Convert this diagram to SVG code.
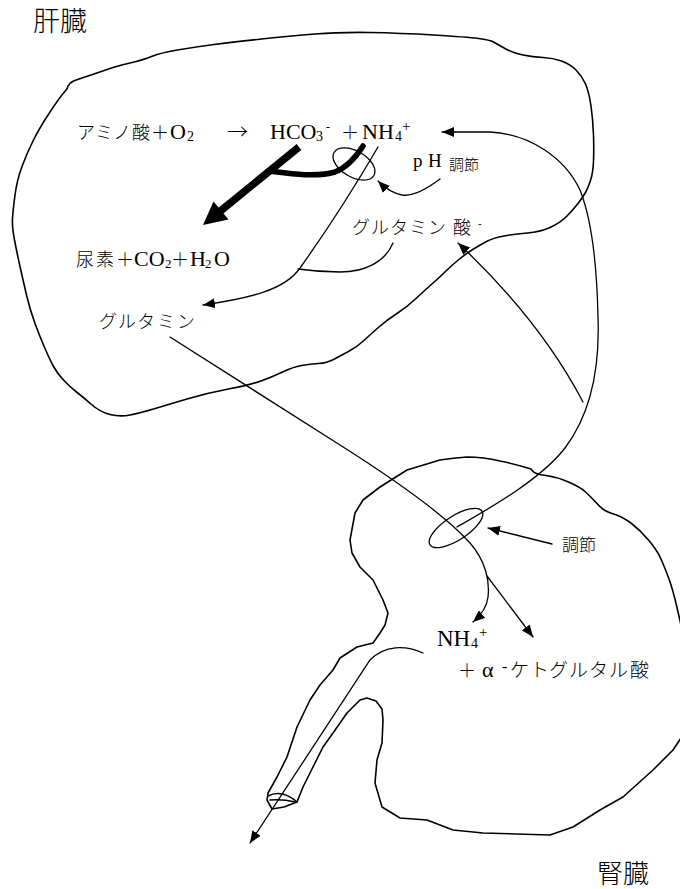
<svg xmlns="http://www.w3.org/2000/svg" width="680" height="889" viewBox="0 0 680 889">
  <style>
    .outline { fill: none; stroke: #000; stroke-width: 1.6; stroke-linejoin: round; stroke-linecap: round; }
    .line { fill: none; stroke: #000; stroke-width: 1.3; stroke-linecap: round; }
    .thick { fill: none; stroke: #000; }
    .m { font-family: "Liberation Serif", "Noto Sans CJK JP", serif; fill: #000; font-weight: 300; }
    .g { font-family: "Noto Sans CJK JP", sans-serif; fill: #000; font-weight: 300; }
    .arrow { font-family: "Noto Sans CJK JP", sans-serif; font-weight: 300; }
    .kana { font-size: 18px; }
    .lat { font-size: 22px; }
    .sub { font-size: 14px; }
  </style>
  <defs>
    <marker id="ah" viewBox="0 0 12 10" refX="12" refY="5" markerWidth="12" markerHeight="10" markerUnits="userSpaceOnUse" orient="auto">
      <path d="M0,0 L12,5 L0,10 Z" fill="#000"/>
    </marker>
  </defs>
  <rect width="680" height="889" fill="#fff"/>

  <!-- organ outlines -->
  <g id="liver">
    <path class="outline" d="M69,85 Q70,82 77.5,79.5 Q85,77 92.5,74.5 Q100,72 108.5,69 Q117,66 130,63 Q143,60 151.5,56.5 Q160,53 177.5,50 Q195,47 214,44.5 Q233,42 261.5,39 Q290,36 315,34 Q340,32 370,32.5 Q400,33 433.5,35 Q467,37 478.5,38.5 Q490,40 493.5,42 Q497,44 505,48.5 Q513,53 523,55 Q533,57 543,57.5 Q553,58 561.5,61 Q570,64 576,70 Q582,76 585.5,84 Q589,92 591,106 Q593,120 593.5,135 Q594,150 593.5,161.5 Q593,173 590.5,180.5 Q588,188 585.5,192.5 Q583,197 578,203.5 Q573,210 566.5,216.5 Q560,223 550,227.5 Q540,232 527.5,233 Q515,234 504,236 Q493,238 486.5,241.5 Q480,245 473.5,249 Q467,253 459.5,259 Q452,265 446,271 Q440,277 432.5,283.5 Q425,290 416,298.5 Q407,307 397,313.5 Q387,320 379.5,326.5 Q372,333 364.5,340 Q357,347 348.5,351.5 Q340,356 333.5,359.5 Q327,363 318.5,363.5 Q310,364 301.5,365.5 Q293,367 282.5,372 Q272,377 261,381 Q250,385 228.5,389 Q207,393 187,399 Q167,405 153.5,409 Q140,413 130,415 Q120,417 110,414.5 Q100,412 91.5,404.5 Q83,397 76.5,392 Q70,387 63.5,380 Q57,373 53.5,366.5 Q50,360 45,348.5 Q40,337 35,323.5 Q30,310 26.5,295 Q23,280 20,266.5 Q17,253 14.5,240 Q12,227 12.5,218.5 Q13,210 15,195 Q17,180 22,166.5 Q27,153 33.5,140 Q40,127 50,112 Q60,97 64,92.5 L67,89 L68,86 Z"/>
    <text class="g" x="33" y="31" font-size="27">肝臓</text>
  </g>
  <g id="kidney">
    <path class="outline" d="M681,625 L677,607.5 Q673,590 669,579 Q665,568 661,559 Q657,550 648.5,540 Q640,530 631.5,523.5 Q623,517 615,514.5 Q607,512 603.5,509.5 Q600,507 595,501.5 Q590,496 585,491.5 Q580,487 568.5,482 Q557,477 546,475.5 Q535,474 533,471.5 L531,469 Q515,464 500,461 Q483.5,457 467,457 Q453.5,458 440,460 Q423.5,465 407,470 Q393.5,478.5 380,487 Q371.5,493.5 363,500 Q359,506.5 355,513 Q352.5,526.5 350,540 Q351,546.5 352,553 Q356,560 360,567 Q366.5,573.5 373,580 Q378,590 383,600 Q385.5,606.5 388,613 Q386.5,619 385,625 Q382.5,629 380,633 Q376.5,638 373,643 Q365,645 357,647 Q348.5,652.5 340,658 Q336.5,664 333,670 Q326.5,677.5 320,685 Q315,692.5 310,700 Q303.5,713.5 297,727 Q292,742 287,757 Q282,767 277,777 Q272.5,785 268,793 Q267.5,796.5 267,800 Q269.5,804.5 272,809 Q278,808 284,807 Q290.5,804.5 297,802 Q300,794.5 303,787 Q308,777 313,767 Q318,757 323,747 Q328,740 333,733 Q340,723 347,713 Q353.5,706.5 360,700 Q363.5,699 367,698 Q371.5,699.5 376,701 Q379,705 382,709 Q382.5,714.5 383,720 Q382.5,731.5 382,743 Q379.5,751.5 377,760 Q376,771.5 375,783 Q378.5,795 382,807 Q391,812.5 400,818 Q413.5,819 427,820 Q440,825 453,830 Q468,831.5 483,833 Q516.5,834 550,835 Q561.5,831 573,827 Q586.5,818.5 600,810 Q611.5,803.5 623,797 Q638,783.5 653,770 Q663,760 673,750 L681,738"/>
    <!-- open end of the tubule -->
    <path class="outline" d="M268,796 Q282,789 297,802"/>
    <path class="outline" d="M270,800 Q283,799 295,802"/>
    <text class="g" x="597" y="883" font-size="26">腎臓</text>
  </g>

  <!-- reactions in the liver -->
  <g id="reaction">
    <text class="m" y="139">
      <tspan class="kana" x="77">ア</tspan><tspan class="kana" x="95">ミ</tspan><tspan class="kana" x="113">ノ</tspan><tspan class="kana" x="132">酸</tspan><tspan class="kana" x="151">＋</tspan><tspan class="lat" x="170">O</tspan><tspan class="sub" x="187" y="141">2</tspan><tspan class="arrow" font-size="21" x="227" y="139">→</tspan><tspan class="lat" x="270" y="139">HCO</tspan><tspan class="sub" x="316" y="141">3</tspan><tspan font-size="12" x="326" y="131">-</tspan><tspan class="kana" x="341" y="139">＋</tspan><tspan class="lat" x="362" y="139">NH</tspan><tspan class="sub" x="395" y="141">4</tspan><tspan font-size="15" x="402" y="131">+</tspan>
    </text>
  </g>
  <g id="ph">
    <text class="m" y="167"><tspan font-size="19" x="413">p</tspan><tspan font-size="19" x="428">H</tspan></text>
    <text class="g" x="449" y="170" font-size="15">調節</text>
  </g>
  <g id="glutamate">
    <text class="m kana" y="234" x="352 371 390 409 428 453">グルタミン酸</text>
    <text class="m" x="478" y="227" font-size="11">-</text>
  </g>
  <g id="urea">
    <text class="m" y="266">
      <tspan class="kana" x="76">尿</tspan><tspan class="kana" x="96">素</tspan><tspan class="kana" x="116">＋</tspan><tspan font-size="22" x="134">CO</tspan><tspan font-size="13" x="165" y="268">2</tspan><tspan class="kana" x="171" y="266">＋</tspan><tspan font-size="22" x="190" y="266">H</tspan><tspan font-size="13" x="205" y="268">2</tspan><tspan font-size="22" x="214" y="266">O</tspan>
    </text>
  </g>
  <g id="glutamine">
    <text class="m kana" y="328" x="99 118 137 157 177">グルタミン</text>
  </g>

  <!-- labels in the kidney -->
  <g id="regulation">
    <text class="g" x="562" y="551" font-size="17">調節</text>
  </g>
  <g id="ammonium">
    <text class="m" y="646"><tspan font-size="23" x="437">NH</tspan><tspan class="sub" x="471" y="648">4</tspan><tspan font-size="15" x="479" y="637">+</tspan></text>
  </g>
  <g id="ketoglutarate">
    <text class="m" y="677"><tspan class="kana" x="458">＋</tspan><tspan font-size="22" x="482">α</tspan><tspan font-size="16" x="502" y="672">-</tspan><tspan font-size="19" x="510 530 549 569 589 609 630" y="677">ケトグルタル酸</tspan></text>
  </g>

  <!-- connectors -->
  <g id="connectors">
    <!-- thick urea-cycle arrow and its branch -->
    <line class="thick" x1="299" y1="147" x2="218" y2="213" stroke-width="7.5"/>
    <polygon points="203,225 213.5,201.5 228.5,219.5" fill="#000"/>
    <path class="thick" d="M268,171 C285,173 315,178 335,172 C348,167 356,157 363,146" stroke-width="5.5" stroke-linecap="round"/>
    <!-- regulation sites -->
    <ellipse class="line" cx="354" cy="164" rx="23" ry="13" transform="rotate(30 354 164)"/>
    <ellipse class="line" cx="456" cy="528" rx="31" ry="12" transform="rotate(-33 456 528)"/>
    <!-- NH4+ to glutamine -->
    <path class="line" d="M378,147 C350,195 320,240 300,268 C285,290 250,298 203,305" marker-end="url(#ah)"/>
    <!-- glutamate joins -->
    <path class="line" d="M393,243 C385,262 365,272 340,272 C320,272 305,270 298,269"/>
    <!-- pH regulation -->
    <path class="line" d="M440,179 C428,188 414,197 402,195 C392,193 384,187 378,181" marker-end="url(#ah)"/>
    <!-- return from kidney to NH4+ -->
    <path class="line" d="M457,527 C490,508 540,480 565,448 C590,415 600,370 598,317 C597,270 592,220 580,190 C565,158 530,134 490,132 L442,132" marker-end="url(#ah)"/>
    <!-- kidney to glutamate -->
    <path class="line" d="M583,402 Q540,320 458,243" marker-end="url(#ah)"/>
    <!-- glutamine to kidney -->
    <path class="line" d="M170,337 L340,445 C400,483 445,515 470,543 C485,560 490,580 488,597 C487,607 481,615 473,622" marker-end="url(#ah)"/>
    <path class="line" d="M487,576 L533,637" marker-end="url(#ah)"/>
    <!-- kidney regulation -->
    <path class="line" d="M552,544 L488,528" marker-end="url(#ah)"/>
    <!-- excretion through the tubule -->
    <path class="line" d="M423,653 C405,645 385,645 370,660 L250,843" marker-end="url(#ah)"/>
  </g>
</svg>
